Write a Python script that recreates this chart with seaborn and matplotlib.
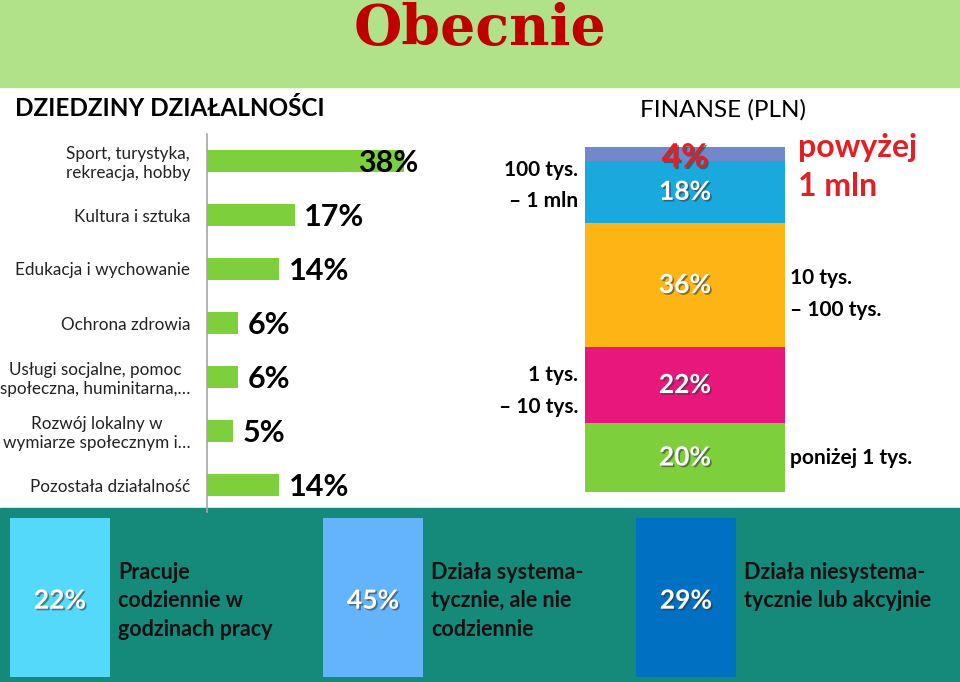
import matplotlib
matplotlib.use("Agg")
import matplotlib.pyplot as plt
import matplotlib.patheffects as pe
from matplotlib.patches import Rectangle
import seaborn as sns
import numpy as np

# ---------------- data ----------------
title = "Obecnie"
domain_title = "DZIEDZINY DZIAŁALNOŚCI"
domains = [
    "Sport, turystyka,\nrekreacja, hobby",
    "Kultura i sztuka",
    "Edukacja i wychowanie",
    "Ochrona zdrowia",
    "Usługi socjalne, pomoc\nspołeczna, huminitarna,…",
    "Rozwój lokalny w\nwymiarze społecznym i…",
    "Pozostała działalność",
]
domain_pct = [38, 17, 14, 6, 6, 5, 14]

finance_title = "FINANSE (PLN)"
finance_ranges = ["poniżej 1 tys.", "1 tys.\n– 10 tys.", "10 tys.\n– 100 tys.",
                  "100 tys.\n– 1 mln", "powyżej\n1 mln"]
finance_pct = [20, 22, 36, 18, 4]
finance_colors = ["#7DCF3C", "#E8177B", "#FDB515", "#1AA9DD", "#7189CB"]

work_modes = ["Pracuje\ncodziennie w\ngodzinach pracy",
              "Działa systema-\ntycznie, ale nie\ncodziennie",
              "Działa niesystema-\ntycznie lub akcyjnie"]
work_pct = [22, 45, 29]
work_colors = ["#55D9FB", "#63B4FB", "#0070C2"]

# ---------------- style ----------------
sns.set_theme(style="white")
plt.rcParams["font.family"] = ["Lato", "DejaVu Sans"]

W, H = 960, 682
GREEN = "#7DCF3C"
BAND_GREEN = "#B1E28A"
TEAL = "#15897A"


def rect(x0, y0, x1, y1):
    return [x0 / W, 1 - y1 / H, (x1 - x0) / W, (y1 - y0) / H]


fig = plt.figure(figsize=(W / 100, H / 100), dpi=100)
fig.patch.set_facecolor("white")
fig.add_artist(Rectangle((0, 1 - 87 / H), 1, 87 / H, transform=fig.transFigure,
                         color=BAND_GREEN, zorder=0))
fig.add_artist(Rectangle((0, 0), 1, (H - 508) / H, transform=fig.transFigure,
                         color=TEAL, zorder=0))

fig.text(0.5, 1 - 29 / H, title, family=["DejaVu Serif"], weight="bold",
         fontsize=40, color="#C00000", ha="center", va="center")
fig.text(15 / W, 1 - 108 / H, domain_title, weight="bold", fontsize=17.5,
         color="black", ha="left", va="center")
fig.text(723 / W, 1 - 110 / H, finance_title, fontsize=17.5, color="black",
         ha="center", va="center")

shadow = [pe.SimplePatchShadow(offset=(1.2, -1.2), shadow_rgbFace="#333333", alpha=0.55),
          pe.Normal()]

# ---------------- domains (horizontal bars) ----------------
ax1 = fig.add_axes(rect(207, 134, 414, 512))
ax1.set_facecolor("none")
sns.barplot(x=domain_pct, y=domains, orient="h", color=GREEN, width=0.39,
            saturation=1, linewidth=0, ax=ax1)
ax1.set_xlim(0, 40)
ax1.set_ylim(6.5, -0.5)
for s in ["top", "right", "bottom"]:
    ax1.spines[s].set_visible(False)
ax1.spines["left"].set_color("#A6A6A6")
ax1.spines["left"].set_linewidth(1.2)
ax1.set_xticks([])
ax1.set_xlabel("")
ax1.set_ylabel("")
ax1.tick_params(axis="y", length=0, pad=12, labelsize=12.3, labelcolor="#222222")
for lbl in ax1.get_yticklabels():
    lbl.set_multialignment("center")
top = max(domain_pct)
for i, v in enumerate(domain_pct):
    xpos = v - 8.8 if v == top else v + 1.8
    ax1.text(xpos, i + 0.04, f"{v}%", fontsize=22, weight="bold", color="black",
             ha="left", va="center", clip_on=False)

# ---------------- finance (stacked bar) ----------------
ax2 = fig.add_axes(rect(585, 147, 785, 492))
cum = np.cumsum(finance_pct)
for k in range(len(finance_pct) - 1, -1, -1):
    sns.barplot(x=[finance_title], y=[cum[k]], color=finance_colors[k], width=1,
                saturation=1, linewidth=0, ax=ax2)
ax2.set_xlim(-0.5, 0.5)
ax2.set_ylim(0, 100)
ax2.axis("off")

range_side = ["right", "left", "right", "left", "right"]
range_dy = [0, -6, -9, 6, -13]
for k, v in enumerate(finance_pct):
    mid = cum[k] - v / 2
    is_top = k == len(finance_pct) - 1
    ax2.annotate(f"{v}%", xy=(0.5, mid), xycoords=("axes fraction", "data"),
                 xytext=(0, -4 if is_top else 0), textcoords="offset pixels",
                 fontsize=24 if is_top else 19, weight="bold",
                 color="#E31E24" if is_top else "white", ha="center", va="center",
                 path_effects=shadow, annotation_clip=False)
    side = range_side[k]
    xa = 1 if side == "right" else 0
    dx = (13 if is_top else 5) if side == "right" else -7
    ax2.annotate(finance_ranges[k], xy=(xa, mid), xycoords=("axes fraction", "data"),
                 xytext=(dx, range_dy[k]), textcoords="offset pixels",
                 ha="left" if side == "right" else "right", va="center",
                 fontsize=23 if is_top else 15, weight="bold",
                 color="#E31E24" if is_top else "black",
                 linespacing=1.4 if is_top else 1.7,
                 annotation_clip=False)

# ---------------- work mode (bottom boxes) ----------------
ax3 = fig.add_axes([0, 1 - 677 / H, 1, 159 / H])
ax3.set_facecolor("none")
sns.barplot(x=work_modes, y=np.ones(len(work_modes)), hue=work_modes,
            palette=work_colors, width=0.32, saturation=1, linewidth=0,
            legend=False, ax=ax3)
ax3.set_xlim(-60 / 313, 900 / 313)
ax3.set_ylim(0, 1)
ax3.axis("off")
for i, (lab, v) in enumerate(zip(work_modes, work_pct)):
    ax3.text(i, 0.48, f"{v}%", fontsize=19, weight="bold", color="white",
             ha="center", va="center", path_effects=shadow)
    ax3.text(i + 0.185, 0.725, lab, fontsize=15.5, weight="bold", color="#111111",
             ha="left", va="top", linespacing=1.45)

fig.savefig("out.png", dpi=100)
